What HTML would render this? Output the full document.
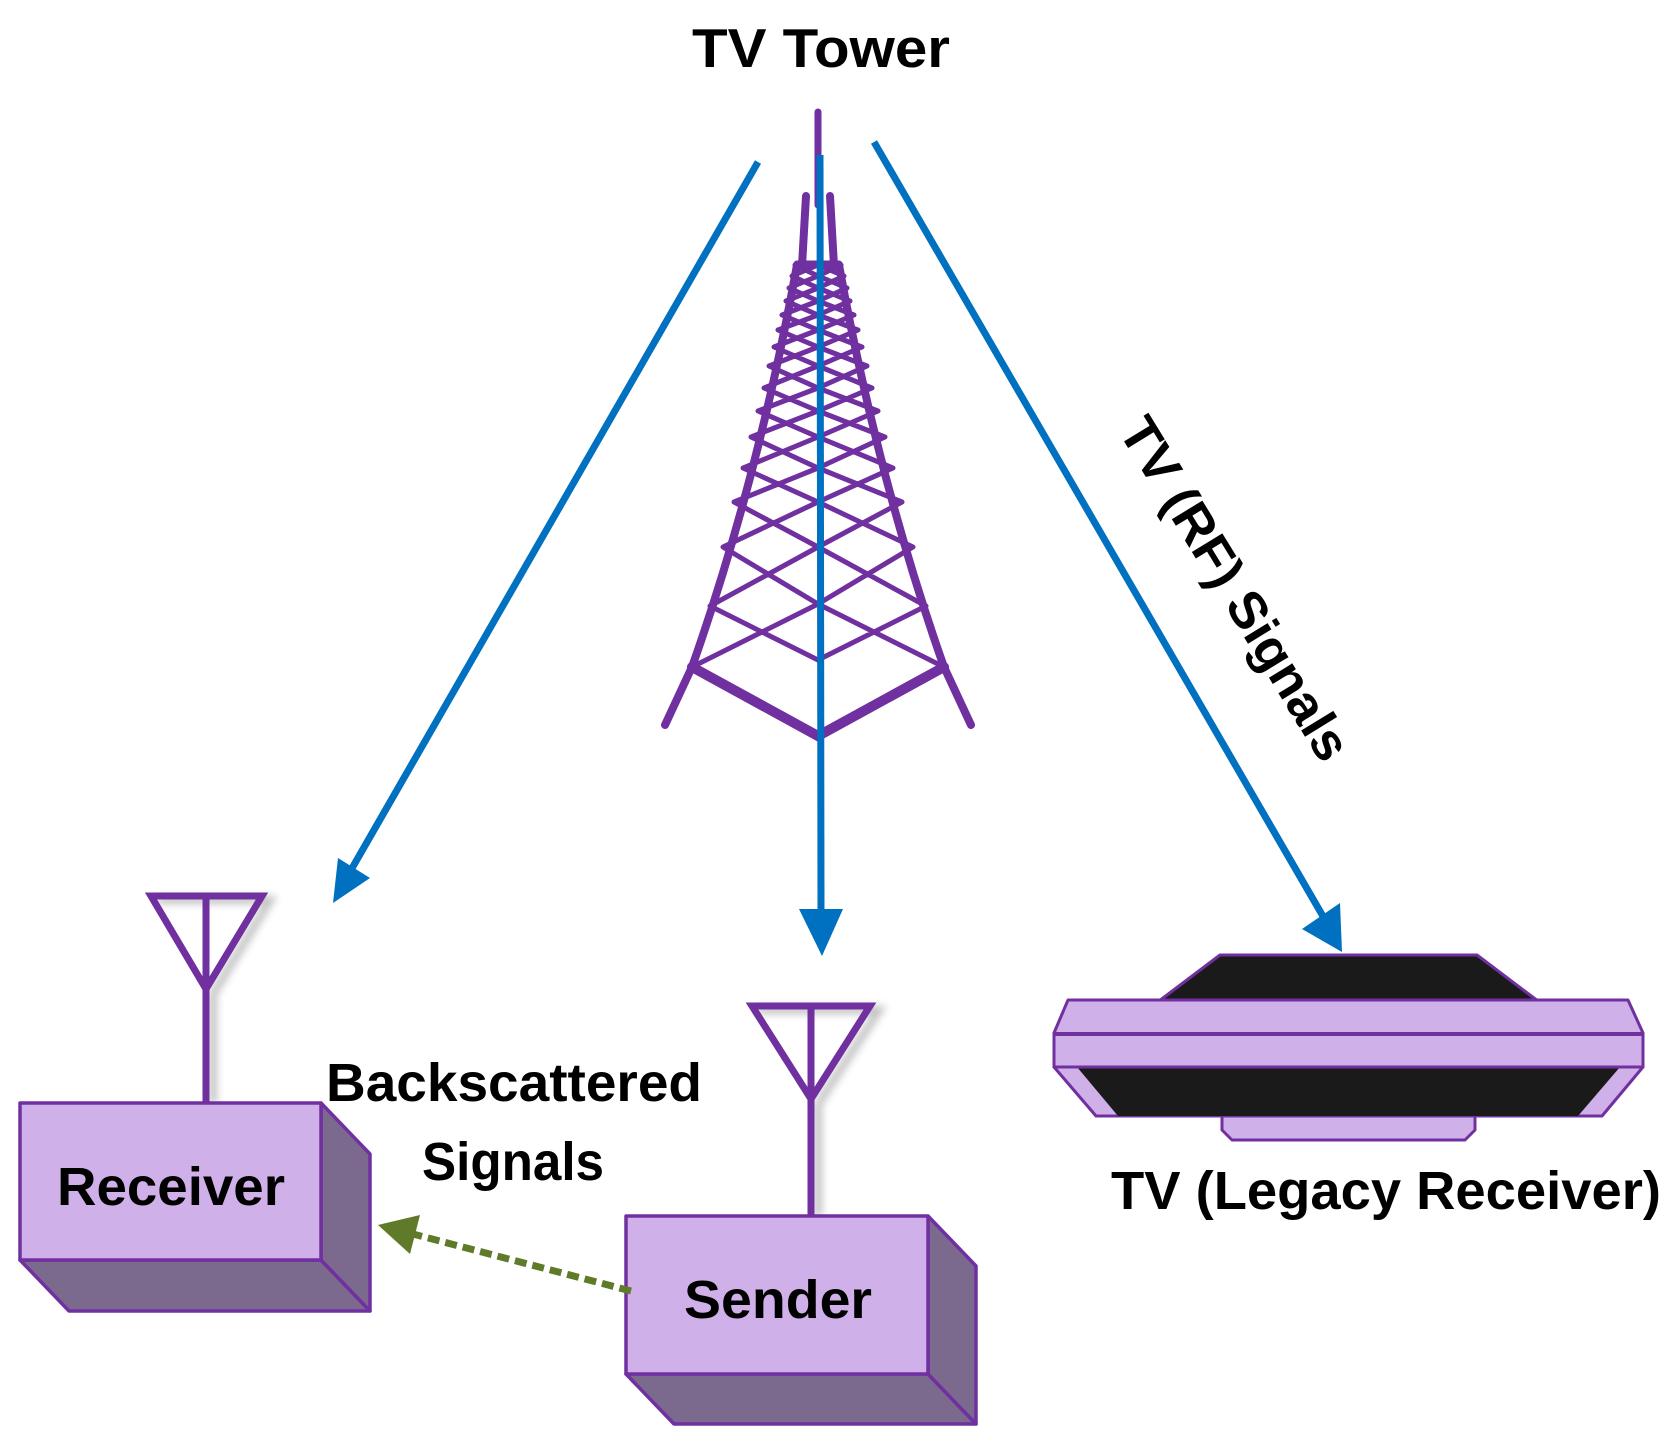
<!DOCTYPE html>
<html><head><meta charset="utf-8"><style>html,body{margin:0;padding:0;background:#fff}svg{display:block}</style></head>
<body>
<svg width="1680" height="1444" viewBox="0 0 1680 1444" xmlns="http://www.w3.org/2000/svg" font-family="Liberation Sans, sans-serif" font-weight="bold">
<defs><filter id="sh" x="-30%" y="-30%" width="160%" height="160%"><feGaussianBlur stdDeviation="4"/></filter></defs>
<text x="821" y="67" font-size="55" text-anchor="middle" textLength="258" lengthAdjust="spacingAndGlyphs">TV Tower</text>
<!-- tower -->
<g stroke="#7030A0" fill="none" stroke-linecap="round">
<line x1="818" y1="112" x2="818" y2="205" stroke-width="7"/>
<line x1="806" y1="196" x2="802" y2="266" stroke-width="8"/>
<line x1="830" y1="196" x2="834" y2="266" stroke-width="8"/>
<line x1="797" y1="264" x2="839" y2="264" stroke-width="7"/>
<path d="M797 265 Q758 480 692 667 L665 725" stroke-width="8"/>
<path d="M839 265 Q878 480 944 667 L971 725" stroke-width="8"/>
<polyline points="692,667 818,736 944,667" stroke-width="10"/>
<path stroke-width="5" d="
M795 265 L818 276 M818 265 L792 276 M841 265 L818 276 M818 265 L844 276
M792 276 L818 288 M818 276 L789 288 M844 276 L818 288 M818 276 L847 288
M789 288 L818 301 M818 288 L786 301 M847 288 L818 301 M818 288 L850 301
M786 301 L818 315 M818 301 L782 315 M850 301 L818 315 M818 301 L854 315
M782 315 L818 330 M818 315 L778 330 M854 315 L818 330 M818 315 L858 330
M778 330 L818 347 M818 330 L774 347 M858 330 L818 347 M818 330 L862 347
M774 347 L818 366 M818 347 L769 366 M862 347 L818 366 M818 347 L867 366
M769 366 L818 388 M818 366 L764 388 M867 366 L818 388 M818 366 L872 388
M764 388 L818 411 M818 388 L758 411 M872 388 L818 411 M818 388 L878 411
M758 411 L818 437 M818 411 L751 437 M878 411 L818 437 M818 411 L885 437
M751 437 L818 468 M818 437 L743 468 M885 437 L818 468 M818 437 L893 468
M743 468 L818 502 M818 468 L734 502 M893 468 L818 502 M818 468 L902 502
M734 502 L818 547 M818 502 L723 547 M902 502 L818 547 M818 502 L913 547
M723 547 L818 604 M818 547 L710 606 M913 547 L818 604 M818 547 L926 606
M710 606 L818 660 M818 604 L692 667 M926 606 L818 660 M818 604 L944 667"/>
</g>
<!-- blue arrows -->
<g stroke="#0070C0" stroke-width="7" fill="#0070C0">
<line x1="820" y1="155" x2="821" y2="915"/>
<polygon points="799,909 843,909 822,956" stroke="none"/>
<line x1="758" y1="162" x2="351" y2="870"/>
<polygon points="333,903 338,858 370,878" stroke="none"/>
<line x1="874" y1="142" x2="1324" y2="918"/>
<polygon points="1342,952 1302,929 1340,903" stroke="none"/>
</g>
<text x="0" y="0" font-size="52" textLength="392" lengthAdjust="spacingAndGlyphs" text-anchor="middle" transform="translate(1220,598) rotate(58.5)">TV (RF) Signals</text>
<!-- antennas -->
<g opacity="0.45" filter="url(#sh)" stroke="#777" stroke-width="8" fill="none"><polyline points="158,900 270,900 213,994"/><line x1="213" y1="994" x2="213" y2="1103"/><polyline points="758,1010 879,1010 818,1104"/><line x1="818" y1="1104" x2="818" y2="1216"/></g>
<g stroke="#7030A0" stroke-width="7" fill="none">
<polygon points="151,896 262,896 206,989"/><line x1="206" y1="896" x2="206" y2="1104"/>
<polygon points="752,1006 870,1006 811,1099"/><line x1="811" y1="1006" x2="811" y2="1217"/>
</g>
<!-- boxes -->
<g stroke="#7030A0" stroke-width="3.5" stroke-linejoin="round">
<polygon points="20,1260 321,1260 370,1311 69,1311" fill="#7B6A8E"/>
<polygon points="321,1103 370,1154 370,1311 321,1260" fill="#7B6A8E"/>
<rect x="20" y="1103" width="301" height="157" fill="#CFB0E8"/>
<polygon points="626,1374 928,1374 976,1424 674,1424" fill="#7B6A8E"/>
<polygon points="928,1216 976,1266 976,1424 928,1374" fill="#7B6A8E"/>
<rect x="626" y="1216" width="302" height="158" fill="#CFB0E8"/>
</g>
<text x="171" y="1205" font-size="54" text-anchor="middle" textLength="228" lengthAdjust="spacingAndGlyphs">Receiver</text>
<text x="778" y="1318" font-size="54" text-anchor="middle" textLength="188" lengthAdjust="spacingAndGlyphs">Sender</text>
<text x="514" y="1101" font-size="54" text-anchor="middle" textLength="376" lengthAdjust="spacingAndGlyphs">Backscattered</text>
<text x="513" y="1180" font-size="54" text-anchor="middle" textLength="182" lengthAdjust="spacingAndGlyphs">Signals</text>
<!-- green dashed -->
<line x1="631" y1="1291" x2="413" y2="1234" stroke="#5F7A29" stroke-width="7" stroke-dasharray="12,6"/>
<polygon points="378,1225 420,1215 410,1254" fill="#5F7A29"/>
<!-- TV -->
<g stroke="#7030A0" stroke-width="3" stroke-linejoin="round">
<polygon points="1222,1116 1475,1116 1475,1130 1465,1140 1232,1140 1222,1130" fill="#CFB0E8"/>
<polygon points="1159,1001 1220,955 1477,955 1538,1001" fill="#1A1A1A"/>
<polygon points="1054,1067 1643,1067 1602,1116 1096,1116" fill="#CFB0E8"/>
<polygon points="1077,1067 1620,1067 1578,1116 1118,1116" fill="#1A1A1A" stroke="none"/>
<polygon points="1068,1000 1628,1000 1643,1033 1643,1067 1054,1067 1054,1033" fill="#CFB0E8"/>
<line x1="1054" y1="1034" x2="1643" y2="1034" stroke-width="4"/>
</g>
<text x="1386" y="1209" font-size="54" text-anchor="middle" textLength="550" lengthAdjust="spacingAndGlyphs">TV (Legacy Receiver)</text>
</svg>
</body></html>
